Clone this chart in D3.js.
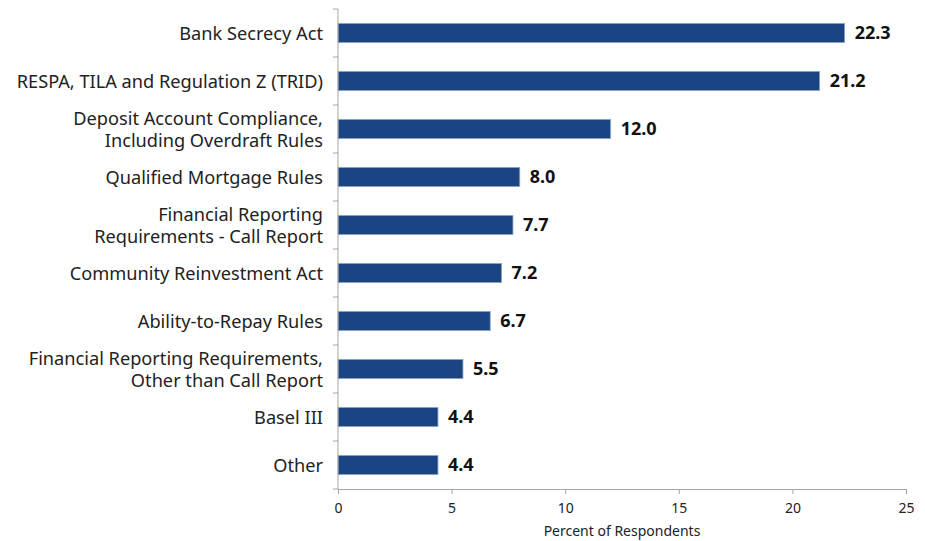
<!DOCTYPE html>
<html>
<head>
<meta charset="utf-8">
<script src="https://cdn.jsdelivr.net/npm/d3@7"></script>
<style>
  body { margin: 0; background: #fff; }
  svg { font-family: "Noto Sans", sans-serif; }
</style>
</head>
<body>
<div id="chart"></div>
<script>
var categories = [
  ["Bank Secrecy Act"],
  ["RESPA, TILA and Regulation Z (TRID)"],
  ["Deposit Account Compliance,", "Including Overdraft Rules"],
  ["Qualified Mortgage Rules"],
  ["Financial Reporting", "Requirements - Call Report"],
  ["Community Reinvestment Act"],
  ["Ability-to-Repay Rules"],
  ["Financial Reporting Requirements,", "Other than Call Report"],
  ["Basel III"],
  ["Other"]
];
var values = [22.3, 21.2, 12.0, 8.0, 7.7, 7.2, 6.7, 5.5, 4.4, 4.4];
var xTicks = [0, 5, 10, 15, 20, 25];
var axisTitle = "Percent of Respondents";

var width = 925, height = 541,
    margin = {top: 9, right: 19, bottom: 52, left: 338};

var svg = d3.select('#chart').append('svg')
    .attr('width', width)
    .attr('height', height);

var x = d3.scaleLinear().domain([0, 25]).range([margin.left, width - margin.right]);
var y = d3.scaleBand().domain(d3.range(categories.length))
    .range([margin.top, height - margin.bottom])
    .paddingInner(0.6).paddingOuter(0.3);

// band boundaries for the y tick marks
var bandStep = (height - margin.bottom - margin.top) / categories.length;

// bars
svg.selectAll('rect.bar').data(values).enter()
    .append('rect')
    .attr('class', 'bar')
    .attr('x', x(0))
    .attr('y', function(d, i){ return y(i); })
    .attr('width', function(d){ return x(d) - x(0); })
    .attr('height', y.bandwidth())
    .attr('fill', '#1b4582')
    .attr('stroke', '#8ea6c9')
    .attr('stroke-width', 0.8);

// value labels
svg.selectAll('text.val').data(values).enter()
    .append('text')
    .attr('class', 'val')
    .attr('x', function(d){ return x(d) + 10; })
    .attr('y', function(d, i){ return y(i) + y.bandwidth()/2; })
    .attr('dy', '0.36em')
    .attr('font-size', '18px')
    .attr('font-weight', 'bold')
    .attr('fill', '#111')
    .text(function(d){ return d.toFixed(1); });

// category labels
var labels = svg.selectAll('text.cat').data(categories).enter()
    .append('text')
    .attr('class', 'cat')
    .attr('text-anchor', 'end')
    .attr('font-size', '18.2px')
    .attr('fill', '#222');
labels.each(function(lines, i){
    var cy = y(i) + y.bandwidth()/2,
        lh = 22,
        start = cy - (lines.length - 1) * lh / 2;
    d3.select(this).selectAll('tspan').data(lines).enter()
        .append('tspan')
        .attr('x', margin.left - 15)
        .attr('y', function(d, k){ return start + k * lh; })
        .attr('dy', '0.36em')
        .text(function(d){ return d; });
});

// y axis line and tick marks between bands
var axisColor = '#a6a6a6';
svg.append('line')
    .attr('x1', x(0)).attr('x2', x(0))
    .attr('y1', margin.top).attr('y2', height - margin.bottom)
    .attr('stroke', axisColor).attr('stroke-width', 1);
svg.selectAll('line.ytick').data(d3.range(categories.length + 1)).enter()
    .append('line')
    .attr('class', 'ytick')
    .attr('x1', x(0) - 5).attr('x2', x(0))
    .attr('y1', function(k){ return margin.top + k * bandStep; })
    .attr('y2', function(k){ return margin.top + k * bandStep; })
    .attr('stroke', axisColor);

// x axis
var xAxis = svg.append('g')
    .attr('transform', 'translate(0,' + (height - margin.bottom) + ')')
    .call(d3.axisBottom(x).tickValues(xTicks).tickSize(5).tickPadding(9).tickSizeOuter(0));
xAxis.select('.domain').attr('stroke', axisColor);
xAxis.selectAll('.tick line').attr('stroke', axisColor);
xAxis.selectAll('.tick text')
    .attr('font-size', '14px')
    .attr('font-family', '"Noto Sans", sans-serif')
    .attr('fill', '#222');

svg.append('text')
    .attr('x', (x(0) + x(25)) / 2)
    .attr('y', height - 5)
    .attr('text-anchor', 'middle')
    .attr('font-size', '14px')
    .attr('fill', '#222')
    .text(axisTitle);
</script>
</body>
</html>
